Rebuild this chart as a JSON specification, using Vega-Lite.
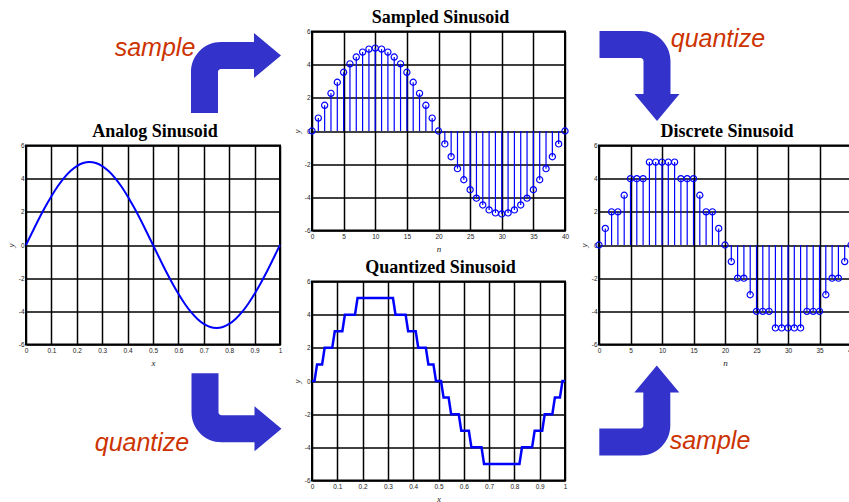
{
  "$schema": "https://vega.github.io/schema/vega-lite/v6.json",
  "background": "white",
  "padding": {"left": 5, "top": 7.5, "right": -4, "bottom": 0},
  "spacing": 6,
  "datasets": {
    "wave": [
      {"n": 0, "t": 0, "y": 0, "d": 0},
      {"n": 1, "t": 0.025, "y": 0.78, "d": 1},
      {"n": 2, "t": 0.05, "y": 1.55, "d": 2},
      {"n": 3, "t": 0.075, "y": 2.27, "d": 2},
      {"n": 4, "t": 0.1, "y": 2.94, "d": 3},
      {"n": 5, "t": 0.125, "y": 3.54, "d": 4},
      {"n": 6, "t": 0.15, "y": 4.05, "d": 4},
      {"n": 7, "t": 0.175, "y": 4.46, "d": 4},
      {"n": 8, "t": 0.2, "y": 4.76, "d": 5},
      {"n": 9, "t": 0.225, "y": 4.94, "d": 5},
      {"n": 10, "t": 0.25, "y": 5, "d": 5},
      {"n": 11, "t": 0.275, "y": 4.94, "d": 5},
      {"n": 12, "t": 0.3, "y": 4.76, "d": 5},
      {"n": 13, "t": 0.325, "y": 4.46, "d": 4},
      {"n": 14, "t": 0.35, "y": 4.05, "d": 4},
      {"n": 15, "t": 0.375, "y": 3.54, "d": 4},
      {"n": 16, "t": 0.4, "y": 2.94, "d": 3},
      {"n": 17, "t": 0.425, "y": 2.27, "d": 2},
      {"n": 18, "t": 0.45, "y": 1.55, "d": 2},
      {"n": 19, "t": 0.475, "y": 0.78, "d": 1},
      {"n": 20, "t": 0.5, "y": 0, "d": 0},
      {"n": 21, "t": 0.525, "y": -0.78, "d": -1},
      {"n": 22, "t": 0.55, "y": -1.55, "d": -2},
      {"n": 23, "t": 0.575, "y": -2.27, "d": -2},
      {"n": 24, "t": 0.6, "y": -2.94, "d": -3},
      {"n": 25, "t": 0.625, "y": -3.54, "d": -4},
      {"n": 26, "t": 0.65, "y": -4.05, "d": -4},
      {"n": 27, "t": 0.675, "y": -4.46, "d": -4},
      {"n": 28, "t": 0.7, "y": -4.76, "d": -5},
      {"n": 29, "t": 0.725, "y": -4.94, "d": -5},
      {"n": 30, "t": 0.75, "y": -5, "d": -5},
      {"n": 31, "t": 0.775, "y": -4.94, "d": -5},
      {"n": 32, "t": 0.8, "y": -4.76, "d": -5},
      {"n": 33, "t": 0.825, "y": -4.46, "d": -4},
      {"n": 34, "t": 0.85, "y": -4.05, "d": -4},
      {"n": 35, "t": 0.875, "y": -3.54, "d": -4},
      {"n": 36, "t": 0.9, "y": -2.94, "d": -3},
      {"n": 37, "t": 0.925, "y": -2.27, "d": -2},
      {"n": 38, "t": 0.95, "y": -1.55, "d": -2},
      {"n": 39, "t": 0.975, "y": -0.78, "d": -1},
      {"n": 40, "t": 1, "y": 0, "d": 0}
    ],
    "quant": [
      {"x": 0, "y": 0}, {"x": 0.01, "y": 0}, {"x": 0.02, "y": 1}, {"x": 0.04, "y": 1},
      {"x": 0.05, "y": 2}, {"x": 0.08, "y": 2}, {"x": 0.09, "y": 3}, {"x": 0.12, "y": 3},
      {"x": 0.13, "y": 4}, {"x": 0.17, "y": 4}, {"x": 0.18, "y": 5}, {"x": 0.32, "y": 5},
      {"x": 0.33, "y": 4}, {"x": 0.37, "y": 4}, {"x": 0.38, "y": 3}, {"x": 0.41, "y": 3},
      {"x": 0.42, "y": 2}, {"x": 0.45, "y": 2}, {"x": 0.46, "y": 1}, {"x": 0.48, "y": 1},
      {"x": 0.49, "y": 0}, {"x": 0.51, "y": 0}, {"x": 0.52, "y": -1}, {"x": 0.54, "y": -1},
      {"x": 0.55, "y": -2}, {"x": 0.58, "y": -2}, {"x": 0.59, "y": -3}, {"x": 0.62, "y": -3},
      {"x": 0.63, "y": -4}, {"x": 0.67, "y": -4}, {"x": 0.68, "y": -5}, {"x": 0.82, "y": -5},
      {"x": 0.83, "y": -4}, {"x": 0.87, "y": -4}, {"x": 0.88, "y": -3}, {"x": 0.91, "y": -3},
      {"x": 0.92, "y": -2}, {"x": 0.95, "y": -2}, {"x": 0.96, "y": -1}, {"x": 0.98, "y": -1},
      {"x": 0.99, "y": 0}, {"x": 1, "y": 0}
    ]
  },
  "config": {
    "view": {"stroke": "black", "strokeWidth": 2},
    "axis": {
      "grid": true, "gridColor": "black", "gridOpacity": 1, "gridWidth": 1.5,
      "domain": false, "ticks": false, "labelFlush": false, "labelOverlap": false,
      "labelFont": "Liberation Sans", "labelFontSize": 6.5, "labelColor": "#222222",
      "labelExpr": "'' + datum.value",
      "titleFont": "Liberation Serif", "titleFontStyle": "italic", "titleFontWeight": "normal",
      "titleFontSize": 9, "titleColor": "#222222"
    },
    "axisX": {"labelPadding": 3, "titlePadding": 4},
    "axisY": {"labelPadding": 2, "titlePadding": 3},
    "title": {
      "font": "Liberation Serif", "fontSize": 18, "fontWeight": "bold", "color": "black",
      "offset": 1.5, "dx": 2, "frame": "group", "baseline": "alphabetic", "anchor": "middle"
    }
  },
  "hconcat": [
    {
      "bounds": "flush",
      "spacing": 0,
      "vconcat": [
        {
          "width": 254, "height": 113.5,
          "view": {"stroke": null},
          "layer": [
            {
              "data": {"values": [{"u": 0.7677, "v": 0.6432}]},
              "mark": {"type": "point", "shape": "M-30,41L-30,0A30,30 0 0 1 0,-30L33,-30L33,-39L60,-16.5L33,6L33,-3L0,-3A3,3 0 0 0 -3,0L-3,41Z", "size": 4, "filled": true, "color": "#3333cc", "opacity": 1, "strokeWidth": 0},
              "encoding": {
                "x": {"field": "u", "type": "quantitative", "scale": {"domain": [0, 1]}, "axis": null},
                "y": {"field": "v", "type": "quantitative", "scale": {"domain": [0, 1]}, "axis": null}
              }
            },
            {
              "data": {"values": [{"u": 0.5079, "v": 0.7868, "word": "sample"}]},
              "mark": {"type": "text", "font": "Liberation Sans", "fontSize": 25, "fontStyle": "italic", "color": "#cc3300", "align": "center", "baseline": "alphabetic"},
              "encoding": {
                "x": {"field": "u", "type": "quantitative"},
                "y": {"field": "v", "type": "quantitative"},
                "text": {"field": "word"}
              }
            }
          ]
        },
        {
          "width": 254, "height": 199,
          "title": "Analog Sinusoid",
          "data": {"name": "wave"},
          "mark": {"type": "line", "color": "#0000ff", "strokeWidth": 2, "interpolate": "monotone"},
          "encoding": {
            "x": {"field": "t", "type": "quantitative", "scale": {"domain": [0, 1], "nice": false},
                  "axis": {"title": "x", "values": [0, 0.1, 0.2, 0.3, 0.4, 0.5, 0.6, 0.7, 0.8, 0.9, 1]}},
            "y": {"field": "y", "type": "quantitative", "scale": {"domain": [-6, 6], "nice": false},
                  "axis": {"title": "y", "values": [-6, -4, -2, 0, 2, 4, 6]}}
          }
        },
        {
          "width": 254, "height": 130,
          "view": {"stroke": null},
          "layer": [
            {
              "data": {"values": [{"u": 0.7697, "v": 0.4792}]},
              "mark": {"type": "point", "shape": "M-30,-39L-30,0A30,30 0 0 0 0,30L33,30L33,39L60,16.5L33,-6L33,3L0,3A3,3 0 0 1 -3,0L-3,-39Z", "size": 4, "filled": true, "color": "#3333cc", "opacity": 1, "strokeWidth": 0},
              "encoding": {
                "x": {"field": "u", "type": "quantitative", "scale": {"domain": [0, 1]}, "axis": null},
                "y": {"field": "v", "type": "quantitative", "scale": {"domain": [0, 1]}, "axis": null}
              }
            },
            {
              "data": {"values": [{"u": 0.4567, "v": 0.1792, "word": "quantize"}]},
              "mark": {"type": "text", "font": "Liberation Sans", "fontSize": 25, "fontStyle": "italic", "color": "#cc3300", "align": "center", "baseline": "alphabetic"},
              "encoding": {
                "x": {"field": "u", "type": "quantitative"},
                "y": {"field": "v", "type": "quantitative"},
                "text": {"field": "word"}
              }
            }
          ]
        }
      ]
    },
    {
      "bounds": "flush",
      "spacing": 51,
      "vconcat": [
        {
          "width": 253, "height": 199,
          "title": "Sampled Sinusoid",
          "data": {"name": "wave"},
          "encoding": {
            "x": {"field": "n", "type": "quantitative", "scale": {"domain": [0, 40], "nice": false},
                  "axis": {"title": "n", "values": [0, 5, 10, 15, 20, 25, 30, 35, 40]}},
            "y": {"field": "y", "type": "quantitative", "scale": {"domain": [-6, 6], "nice": false},
                  "axis": {"title": "y", "values": [-6, -4, -2, 0, 2, 4, 6]}}
          },
          "layer": [
            {"mark": {"type": "rule", "color": "#0000ff", "strokeWidth": 1.2}, "encoding": {"y2": {"datum": 0}}},
            {"mark": {"type": "point", "shape": "circle", "filled": false, "color": "#0000ff", "size": 38, "strokeWidth": 1.2, "opacity": 1}}
          ]
        },
        {
          "width": 253, "height": 199,
          "title": "Quantized Sinusoid",
          "data": {"name": "quant"},
          "mark": {"type": "line", "color": "#0000ff", "strokeWidth": 2.5},
          "encoding": {
            "x": {"field": "x", "type": "quantitative", "scale": {"domain": [0, 1], "nice": false},
                  "axis": {"title": "x", "values": [0, 0.1, 0.2, 0.3, 0.4, 0.5, 0.6, 0.7, 0.8, 0.9, 1]}},
            "y": {"field": "y", "type": "quantitative", "scale": {"domain": [-6, 6], "nice": false},
                  "axis": {"title": "y", "values": [-6, -4, -2, 0, 2, 4, 6]}}
          }
        }
      ]
    },
    {
      "bounds": "flush",
      "spacing": 0,
      "vconcat": [
        {
          "width": 252, "height": 113.5,
          "view": {"stroke": null},
          "layer": [
            {
              "data": {"values": [{"u": 0.1647, "v": 0.7401}]},
              "mark": {"type": "point", "shape": "M-41,-30L0,-30A30,30 0 0 1 30,0L30,33L39,33L16.5,60L-6,33L3,33L3,0A3,3 0 0 0 0,-3L-41,-3Z", "size": 4, "filled": true, "color": "#3333cc", "opacity": 1, "strokeWidth": 0},
              "encoding": {
                "x": {"field": "u", "type": "quantitative", "scale": {"domain": [0, 1]}, "axis": null},
                "y": {"field": "v", "type": "quantitative", "scale": {"domain": [0, 1]}, "axis": null}
              }
            },
            {
              "data": {"values": [{"u": 0.4722, "v": 0.8608, "word": "quantize"}]},
              "mark": {"type": "text", "font": "Liberation Sans", "fontSize": 25, "fontStyle": "italic", "color": "#cc3300", "align": "center", "baseline": "alphabetic"},
              "encoding": {
                "x": {"field": "u", "type": "quantitative"},
                "y": {"field": "v", "type": "quantitative"},
                "text": {"field": "word"}
              }
            }
          ]
        },
        {
          "width": 252, "height": 199,
          "title": "Discrete Sinusoid",
          "data": {"name": "wave"},
          "encoding": {
            "x": {"field": "n", "type": "quantitative", "scale": {"domain": [0, 40], "nice": false},
                  "axis": {"title": "n", "values": [0, 5, 10, 15, 20, 25, 30, 35, 40]}},
            "y": {"field": "d", "type": "quantitative", "scale": {"domain": [-6, 6], "nice": false},
                  "axis": {"title": "y", "values": [-6, -4, -2, 0, 2, 4, 6]}}
          },
          "layer": [
            {"mark": {"type": "rule", "color": "#0000ff", "strokeWidth": 1.2}, "encoding": {"y2": {"datum": 0}}},
            {"mark": {"type": "point", "shape": "circle", "filled": false, "color": "#0000ff", "size": 38, "strokeWidth": 1.2, "opacity": 1}}
          ]
        },
        {
          "width": 252, "height": 130,
          "view": {"stroke": null},
          "layer": [
            {
              "data": {"values": [{"u": 0.1639, "v": 0.3769}]},
              "mark": {"type": "point", "shape": "M-41,30L0,30A30,30 0 0 0 30,0L30,-33L39,-33L16.5,-60L-6,-33L3,-33L3,0A3,3 0 0 1 0,3L-41,3Z", "size": 4, "filled": true, "color": "#3333cc", "opacity": 1, "strokeWidth": 0},
              "encoding": {
                "x": {"field": "u", "type": "quantitative", "scale": {"domain": [0, 1]}, "axis": null},
                "y": {"field": "v", "type": "quantitative", "scale": {"domain": [0, 1]}, "axis": null}
              }
            },
            {
              "data": {"values": [{"u": 0.4405, "v": 0.2, "word": "sample"}]},
              "mark": {"type": "text", "font": "Liberation Sans", "fontSize": 25, "fontStyle": "italic", "color": "#cc3300", "align": "center", "baseline": "alphabetic"},
              "encoding": {
                "x": {"field": "u", "type": "quantitative"},
                "y": {"field": "v", "type": "quantitative"},
                "text": {"field": "word"}
              }
            }
          ]
        }
      ]
    }
  ]
}
